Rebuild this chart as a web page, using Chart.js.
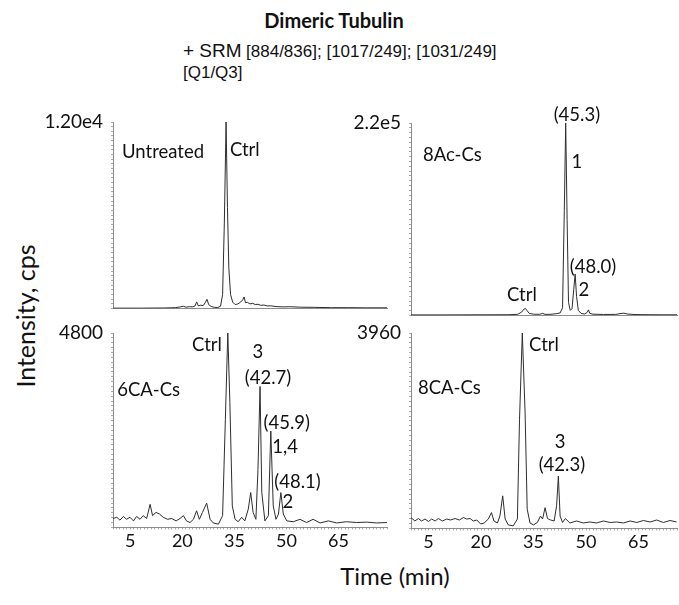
<!DOCTYPE html>
<html>
<head>
<meta charset="utf-8">
<script src="https://cdn.jsdelivr.net/npm/chart.js"></script>
<style>
  body { margin: 0; background: #fff; }
  #page { position: relative; width: 679px; height: 605px; overflow: hidden; background: #fff; font-family: Lato, sans-serif; color: #111; }
  canvas { position: absolute; }
  .t { position: absolute; white-space: nowrap; transform: translate(-50%, -50%); line-height: 1; }
  .l { position: absolute; white-space: nowrap; transform: translate(0, -50%); line-height: 1; }
</style>
</head>
<body>
<div id="page">
  <div class="t" style="left:334px; top:20px; font-weight:bold; font-size:20px;">Dimeric Tubulin</div>
  <div class="l" style="left:183px; top:50px; font-family:'Liberation Sans', Arial, sans-serif;"><span style="font-size:19px">+ SRM</span> <span style="font-size:17px">[884/836]; [1017/249]; [1031/249]</span></div>
  <div class="l" style="left:183px; top:72px; font-family:'Liberation Sans', Arial, sans-serif; font-size:17px;">[Q1/Q3]</div>
  <div class="t" style="left:25px; top:316px; font-size:25px; transform: translate(-50%, -50%) rotate(-90deg);">Intensity, cps</div>
  <div class="t" style="left:395px; top:576px; font-size:24px;">Time (min)</div>

  <canvas id="c1"></canvas>
  <canvas id="c2"></canvas>
  <canvas id="c3"></canvas>
  <canvas id="c4"></canvas>
</div>
<script>
// x tick labels (min)
const timeTicks = [5, 20, 35, 50, 65];

// Untreated (max 1.20e4 cps)
const untreatedTime = [0, 8, 15, 18, 19.5, 20.3, 21, 22, 23, 23.7,
  24.1, 24.6, 25.3, 26, 26.6, 27.1, 27.6, 28.3, 29.2, 30.2,
  31.0, 31.6, 32.1, 32.6, 33.0, 33.4, 33.9, 34.5, 35.2, 36,
  36.8, 37.4, 37.8, 38.2, 38.8, 39.5, 40.3, 41, 41.8, 42.6,
  43.5, 44.5, 45.5, 47, 49, 51, 54, 58, 63, 68,
  73, 79];
const untreatedCps = [30, 30, 40, 60, 110, 150, 90, 120, 110, 180,
  430, 180, 220, 190, 380, 600, 250, 140, 80, 70,
  150, 900, 5500, 12000, 6500, 2600, 900, 420, 260, 300,
  420, 560, 750, 380, 400, 300, 340, 260, 280, 210,
  230, 170, 180, 130, 110, 120, 90, 80, 60, 60,
  50, 50];

// 8Ac-Cs (max 2.2e5 cps)
const ac8Time = [0, 10, 20, 28, 30.5, 31.6, 32.3, 32.7, 33.1, 33.8,
  35, 36.8, 37.6, 38.3, 40, 41.5, 42.6, 43.3, 43.8, 44.2,
  44.6, 45.0, 45.5, 46.0, 46.5, 46.9, 47.3, 47.8, 48.6, 49.6,
  50.3, 50.7, 51.1, 52, 55, 58.5, 60, 60.8, 61.8, 64,
  68, 72, 76];
const ac8Cps = [800, 800, 900, 1000, 1500, 4000, 7500, 8200, 6000, 2500,
  1600, 1500, 2600, 1400, 1500, 2200, 3000, 9000, 120000, 220000,
  110000, 15000, 6000, 8000, 30000, 47500, 22000, 6000, 2500, 1800,
  3500, 6500, 2500, 1600, 1300, 1400, 2400, 2800, 1800, 1200,
  1000, 900, 900];

// 6CA-Cs (max 4800 cps)
const ca6Time = [0, 1.1, 2.0, 3.0, 3.9, 4.9, 5.9, 6.8, 7.8, 8.7,
  9.7, 10.7, 11.4, 12.4, 13.4, 14.5, 15.7, 16.9, 18.2, 19.3,
  20.3, 21.2, 22.2, 23.2, 24.1, 24.9, 25.8, 27.0, 28.0, 28.9,
  30.4, 31.6, 32.4, 33.1, 33.7, 34.4, 35.2, 36.1, 37.1, 38.0,
  39.0, 39.7, 40.4, 41.2, 41.8, 42.4, 42.9, 43.8, 44.8, 45.5,
  46.2, 47.0, 47.7, 48.4, 49.1, 50.1, 52.0, 53.9, 55.8, 57.7,
  59.7, 62.1, 64.5, 67.3, 70.2, 73.1, 76.0, 79];
const ca6Cps = [220, 250, 180, 270, 200, 250, 160, 270, 200, 290,
  220, 570, 290, 370, 330, 250, 200, 220, 160, 220,
  290, 160, 120, 200, 410, 200, 370, 600, 200, 110,
  80, 290, 2670, 4800, 3080, 530, 200, 140, 250, 160,
  450, 860, 370, 200, 1430, 3480, 860, 160, 290, 2380,
  530, 200, 330, 860, 330, 160, 140, 200, 120, 200,
  110, 160, 110, 140, 120, 130, 110, 120];

// 8CA-Cs (max 3960 cps)
const ca8Time = [0, 1.1, 2.1, 3.0, 4.0, 5.0, 5.9, 6.9, 7.8, 9.0,
  10.2, 11.3, 12.6, 13.8, 15.0, 15.9, 16.9, 17.8, 18.8, 19.9,
  20.9, 22.1, 23.0, 23.7, 24.7, 25.4, 26.2, 26.9, 27.8, 29.2,
  30.4, 31.0, 31.8, 32.6, 33.2, 34.0, 35.0, 36.1, 37.0, 37.6,
  38.3, 39.0, 39.9, 40.9, 41.6, 42.1, 42.6, 43.3, 44.1, 45.4,
  47.3, 49.2, 51.1, 53.0, 55.0, 56.9, 58.8, 60.7, 62.6, 64.5,
  66.4, 68.3, 70.2, 72.1, 74.0, 75.9];
const ca8Cps = [220, 150, 200, 150, 190, 140, 190, 150, 200, 150,
  190, 170, 200, 170, 220, 190, 200, 150, 170, 90,
  110, 190, 320, 150, 110, 250, 660, 190, 70, 50,
  190, 2200, 3960, 2340, 390, 110, 70, 120, 250, 190,
  420, 200, 170, 150, 460, 1060, 250, 120, 200, 110,
  150, 110, 130, 110, 150, 120, 130, 110, 150, 120,
  160, 130, 170, 120, 160, 130];

// peak labels, anchored at (time, cps)
const untreatedNotes = [
  {text: 'Untreated', t: 2.6, v: 10075, align: 'left'},
  {text: 'Ctrl', t: 33.7, v: 10200, align: 'left'}
];
const ac8Notes = [
  {text: '8Ac-Cs', t: 3.4, v: 183500, align: 'left'},
  {text: '(45.3)', t: 47.4, v: 229000},
  {text: '1', t: 47.4, v: 175500},
  {text: '(48.0)', t: 52, v: 55900},
  {text: '2', t: 49.4, v: 29600},
  {text: 'Ctrl', t: 31.7, v: 23900}
];
const ca6Notes = [
  {text: 'Ctrl', t: 27.1, v: 4505},
  {text: '3', t: 41.8, v: 4332},
  {text: '(42.7)', t: 44.7, v: 3692},
  {text: '6CA-Cs', t: 1.2, v: 3397, align: 'left'},
  {text: '(45.9)', t: 50.1, v: 2585},
  {text: '1,4', t: 49.6, v: 1994},
  {text: '(48.1)', t: 53.2, v: 1132},
  {text: '2', t: 50.4, v: 615}
];
const ca8Notes = [
  {text: 'Ctrl', t: 38.0, v: 3717},
  {text: '8CA-Cs', t: 2.0, v: 2849, align: 'left'},
  {text: '3', t: 42.6, v: 1758},
  {text: '(42.3)', t: 43.1, v: 1293}
];

Chart.defaults.font.family = 'Lato, sans-serif';
Chart.defaults.color = '#111';

const notesPlugin = {
  id: 'notes',
  afterDraw(chart) {
    const notes = chart.options.plugins.notes.items || [];
    const ctx = chart.ctx;
    ctx.save();
    ctx.fillStyle = '#111';
    ctx.font = '18.5px Lato, sans-serif';
    ctx.textBaseline = 'middle';
    notes.forEach(n => {
      ctx.textAlign = n.align || 'center';
      ctx.fillText(n.text, chart.scales.x.getPixelForValue(n.t), chart.scales.y.getPixelForValue(n.v));
    });
    ctx.restore();
  }
};

function buildConfig(times, cps, yMax, xMax, yLabel, showX, notes) {
  const points = times.map((t, i) => ({x: t, y: cps[i]}));
  return {
    type: 'line',
    data: {
      datasets: [{
        data: points,
        borderColor: '#2e2e2e',
        borderWidth: 1,
        pointRadius: 0,
        tension: 0,
        fill: false
      }]
    },
    options: {
      responsive: false,
      maintainAspectRatio: false,
      animation: false,
      events: [],
      layout: {padding: {top: 25, right: 2, bottom: 0, left: 0}},
      plugins: {legend: {display: false}, tooltip: {enabled: false}, notes: {items: notes}},
      scales: {
        x: {
          type: 'linear',
          min: 0,
          max: xMax,
          border: {display: true, color: '#8c8c8c', width: 1},
          grid: {drawOnChartArea: false, drawTicks: showX, tickLength: 2, color: '#a8a8a8'},
          ticks: {
            display: showX,
            stepSize: 1,
            autoSkip: false,
            maxRotation: 0,
            padding: 1,
            font: {size: 18},
            color: '#111',
            callback: v => timeTicks.includes(v) ? String(v) : ''
          }
        },
        y: {
          min: 0,
          max: yMax,
          afterFit: s => { s.width = 80; },
          border: {display: true, color: '#8c8c8c', width: 1},
          grid: {drawOnChartArea: false, tickLength: 2, color: '#a8a8a8'},
          ticks: {
            stepSize: yMax / 40,
            autoSkip: false,
            padding: 8,
            font: {size: 19},
            color: '#111',
            callback: (v, i, arr) => i === arr.length - 1 ? yLabel : ''
          }
        }
      }
    },
    plugins: [notesPlugin]
  };
}

// draw, then size and place the canvas so the plot area lands on rect [left, top, right, bottom]
function makeChart(id, rect, times, cps, yMax, xMax, yLabel, showX, notes) {
  const canvas = document.getElementById(id);
  const pw = rect[2] - rect[0], ph = rect[3] - rect[1];
  canvas.width = pw + 100;
  canvas.height = ph + 70;
  let chart = new Chart(canvas, buildConfig(times, cps, yMax, xMax, yLabel, showX, notes));
  let ca = chart.chartArea;
  const w = canvas.width + pw - (ca.right - ca.left);
  const h = canvas.height + ph - (ca.bottom - ca.top);
  chart.destroy();
  canvas.width = w;
  canvas.height = h;
  chart = new Chart(canvas, buildConfig(times, cps, yMax, xMax, yLabel, showX, notes));
  ca = chart.chartArea;
  canvas.style.left = (rect[0] - ca.left) + 'px';
  canvas.style.top = (rect[1] - ca.top) + 'px';
  return chart;
}

makeChart('c1', [113, 122, 387, 309], untreatedTime, untreatedCps, 12000, 79, '1.20e4', false, untreatedNotes);
makeChart('c2', [411, 123, 677, 316], ac8Time, ac8Cps, 220000, 76, '2.2e5', false, ac8Notes);
makeChart('c3', [113, 333, 387, 528], ca6Time, ca6Cps, 4800, 79, '4800', true, ca6Notes);
makeChart('c4', [411, 333, 677, 529], ca8Time, ca8Cps, 3960, 76, '3960', true, ca8Notes);
</script>
</body>
</html>
